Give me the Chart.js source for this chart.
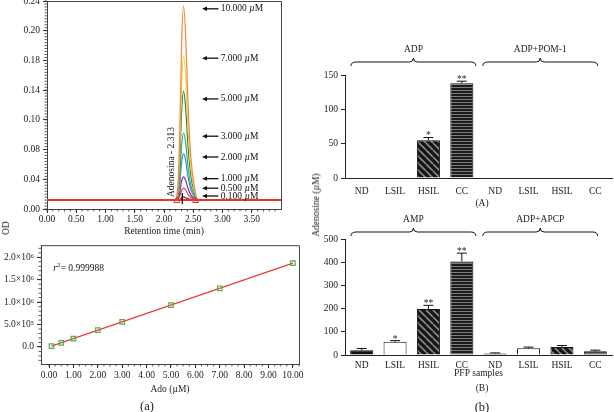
<!DOCTYPE html>
<html>
<head>
<meta charset="utf-8">
<script src="https://cdn.jsdelivr.net/npm/chart.js@4.4.1/dist/chart.umd.min.js"></script>
<style>
  html, body { margin: 0; padding: 0; background: #fff; }
  #fig { position: relative; width: 614px; height: 412px; overflow: hidden;
         font-family: "Liberation Serif", "DejaVu Serif", serif; color: #222; }
  #fig canvas { position: absolute; }
  .lbl { position: absolute; font-size: 9.5px; white-space: nowrap; transform: translate(-50%, -50%); }
  .big { font-size: 12.5px; }
  .rot { transform: translate(-50%, -50%) rotate(-90deg); }
</style>
</head>
<body>
<div id="fig">
  <canvas id="chrom" width="300" height="240" style="left:0;top:0"></canvas>
  <canvas id="calib" width="310" height="165" style="left:0;top:240px"></canvas>
  <canvas id="adp" width="314" height="164" style="left:300px;top:38px"></canvas>
  <canvas id="amp" width="314" height="190" style="left:300px;top:205px"></canvas>

  <div class="lbl rot" style="left:6px;top:228px">OD</div>
  <div class="lbl big" style="left:147px;top:406px">(a)</div>
  <div class="lbl rot" style="left:316px;top:205px">Adenosine (<i>µ</i>M)</div>
  <div class="lbl" style="left:482px;top:203px">(A)</div>
  <div class="lbl" style="left:482px;top:388px">(B)</div>
  <div class="lbl big" style="left:482px;top:407px">(b)</div>
</div>

<script>
// ---- chromatogram (OD vs retention time) ----
const retentionTime = [0.00, 2.18, 2.23, 2.27, 2.30, 2.335, 2.37, 2.41, 2.46, 2.52, 2.58, 4.00];
const od10000 = [0.010, 0.010, 0.021, 0.088, 0.189, 0.234, 0.200, 0.122, 0.059, 0.026, 0.010, 0.010];
const od7000  = [0.010, 0.010, 0.018, 0.068, 0.144, 0.177, 0.152, 0.094, 0.047, 0.022, 0.010, 0.010];
const od5000  = [0.010, 0.010, 0.016, 0.054, 0.111, 0.136, 0.117, 0.073, 0.038, 0.019, 0.010, 0.010];
const od3000  = [0.010, 0.010, 0.014, 0.037, 0.072, 0.088, 0.076, 0.049, 0.027, 0.015, 0.010, 0.010];
const od2000  = [0.010, 0.010, 0.013, 0.029, 0.053, 0.064, 0.056, 0.037, 0.022, 0.014, 0.010, 0.010];
const od1000  = [0.010, 0.010, 0.011, 0.019, 0.032, 0.037, 0.033, 0.024, 0.016, 0.012, 0.010, 0.010];
const od500   = [0.010, 0.010, 0.011, 0.015, 0.021, 0.024, 0.022, 0.017, 0.013, 0.011, 0.010, 0.010];
const od100   = [0.010, 0.010, 0.010, 0.011, 0.013, 0.014, 0.013, 0.012, 0.011, 0.010, 0.010, 0.010];
const baselineTime = [0.00, 4.00];
const baselineOD = [0.0104, 0.0104];
const timeTicks = [0, 0.5, 1, 1.5, 2, 2.5, 3, 3.5];
const odTickLabels = ['0.00', '0.04', '0.08', '0.10', '0.14', '0.18', '0.20', '0.24'];
const concLabels = ['10.000', '7.000', '5.000', '3.000', '2.000', '1.000', '0.500', '0.100'];
const concArrowOD = [0.231, 0.174, 0.127, 0.084, 0.060, 0.035, 0.024, 0.015];

// ---- calibration curve ----
const adoConc = [0.1, 0.5, 1, 2, 3, 5, 7, 10];
const peakArea = [0.019e6, 0.093e6, 0.187e6, 0.374e6, 0.561e6, 0.935e6, 1.309e6, 1.870e6];
const fitX = [0.1, 10];
const fitY = [0.019e6, 1.870e6];
const adoTicks = [0, 1, 2, 3, 4, 5, 6, 7, 8, 9, 10];
const areaTicks = [0, 0.5e6, 1.0e6, 1.5e6, 2.0e6];
const areaTickLabels = ['0.0', '5.0×10⁵', '1.0×10⁶', '1.5×10⁶', '2.0×10⁶'];

// ---- adenosine production (bars) ----
const samples = ['ND', 'LSIL', 'HSIL', 'CC', 'ND', 'LSIL', 'HSIL', 'CC'];
const adpMeans = [0, 0, 55, 138, 0, 0, 0, 0];
const adpSem   = [0, 0, 4, 3, 0, 0, 0, 0];
const adpStars = ['', '', '*', '**', '', '', '', ''];
const ampMeans = [20, 57, 198, 403, 6, 29, 35, 16];
const ampSem   = [8, 5, 16, 36, 3, 5, 6, 5];
const ampStars = ['', '*', '**', '**', '', '', '', ''];

Chart.defaults.font.family = '"Liberation Serif", "DejaVu Serif", serif';
Chart.defaults.font.size = 9.5;
Chart.defaults.color = '#222';
Chart.defaults.animation = false;

const FONT = '9.5px "Liberation Serif", serif';
const toXY = (xs, ys) => xs.map((v, i) => ({ x: v, y: ys[i] }));

function minorTicks(ctx, scale, from, to, step, len) {
  ctx.beginPath();
  for (let v = from; v <= to + 1e-9; v += step) {
    const p = scale.getPixelForValue(v);
    if (scale.isHorizontal()) {
      ctx.moveTo(p, scale.top); ctx.lineTo(p, scale.top + len);
    } else {
      ctx.moveTo(scale.right - len, p); ctx.lineTo(scale.right, p);
    }
  }
  ctx.stroke();
}

function boxFrame(ctx, a) {
  ctx.strokeStyle = '#444';
  ctx.lineWidth = 1;
  ctx.beginPath();
  ctx.moveTo(a.left, a.top + 0.5); ctx.lineTo(a.right + 0.5, a.top + 0.5); ctx.lineTo(a.right + 0.5, a.bottom);
  ctx.stroke();
}

const chromExtras = {
  id: 'chromExtras',
  afterDraw(chart) {
    const { ctx, chartArea: a, scales: { x, y } } = chart;
    ctx.save();
    boxFrame(ctx, a);
    ctx.strokeStyle = '#333';
    ctx.lineWidth = 0.8;
    minorTicks(ctx, x, 0, 3.9, 0.1, 2.5);
    minorTicks(ctx, y, 0, 0.24, 0.24 / 70, 2.5);

    // concentration arrows
    ctx.fillStyle = '#111';
    ctx.strokeStyle = '#111';
    ctx.font = FONT;
    ctx.textBaseline = 'middle';
    const xa = x.getPixelForValue(2.65), xb = x.getPixelForValue(2.93), xt = x.getPixelForValue(2.97);
    concLabels.forEach((t, i) => {
      const py = y.getPixelForValue(concArrowOD[i]);
      ctx.lineWidth = 1.3;
      ctx.beginPath(); ctx.moveTo(xa + 4, py); ctx.lineTo(xb, py); ctx.stroke();
      ctx.beginPath(); ctx.moveTo(xa, py); ctx.lineTo(xa + 5, py - 2.2); ctx.lineTo(xa + 5, py + 2.2); ctx.closePath(); ctx.fill();
      ctx.fillText(t + ' ', xt, py);
      const w = ctx.measureText(t + ' ').width;
      ctx.font = 'italic ' + FONT;
      ctx.fillText('µ', xt + w, py);
      const wm = ctx.measureText('µ').width;
      ctx.font = FONT;
      ctx.fillText('M', xt + w + wm, py);
    });

    // peak markers
    const by = y.getPixelForValue(baselineOD[0]);
    ctx.strokeStyle = '#e03a30';
    ctx.lineWidth = 1;
    [2.22, 2.54].forEach(v => {
      const px = x.getPixelForValue(v);
      ctx.beginPath(); ctx.moveTo(px, by - 3); ctx.lineTo(px + 3, by + 2.5); ctx.lineTo(px - 3, by + 2.5); ctx.closePath(); ctx.stroke();
    });
    const pm = x.getPixelForValue(2.313);
    ctx.strokeStyle = '#000';
    ctx.lineWidth = 1.2;
    ctx.beginPath(); ctx.moveTo(pm, by - 7); ctx.lineTo(pm, by + 4); ctx.stroke();

    // peak name
    ctx.translate(x.getPixelForValue(2.13), by - 3);
    ctx.rotate(-Math.PI / 2);
    ctx.fillStyle = '#111';
    ctx.textAlign = 'left';
    ctx.fillText('Adenosina - 2.313', 0, 0);
    ctx.restore();
  }
};

const peakColors = ['#f5883a', '#e9d54a', '#1f8a3c', '#3aa88c', '#3b8bd1', '#8b2c8f', '#d9475f', '#7a1f3a'];
const peakData = [od10000, od7000, od5000, od3000, od2000, od1000, od500, od100];

new Chart(document.getElementById('chrom'), {
  type: 'line',
  data: {
    datasets: [
      { data: toXY(baselineTime, baselineOD), borderColor: '#e53a30', borderWidth: 2, order: 0 }
    ].concat(peakData.map((d, i) => ({
      data: toXY(retentionTime, d), borderColor: peakColors[i], borderWidth: 1.2, order: 1 + i
    })))
  },
  options: {
    responsive: false,
    layout: { padding: { top: 1, right: 19, left: 0, bottom: 0 } },
    plugins: { legend: { display: false }, tooltip: { enabled: false } },
    elements: { point: { radius: 0 }, line: { cubicInterpolationMode: 'monotone' } },
    scales: {
      x: {
        type: 'linear', min: 0, max: 4,
        afterBuildTicks: s => { s.ticks = timeTicks.map(v => ({ value: v })); },
        afterFit: s => { s.height = 31; s.paddingLeft = 0; s.paddingRight = 0; },
        ticks: { padding: 1, maxRotation: 0, autoSkip: false, callback: v => v.toFixed(2) },
        grid: { drawOnChartArea: false, tickLength: 4, color: '#333' },
        border: { color: '#444' },
        title: { display: true, text: 'Retention time (min)', padding: { top: 0, bottom: 3 } }
      },
      y: {
        type: 'linear', min: 0, max: 0.24,
        afterBuildTicks: s => { s.ticks = odTickLabels.map((t, i) => ({ value: i * 0.24 / 7 })); },
        afterFit: s => { s.width = 47; s.paddingTop = 0; s.paddingBottom = 0; },
        ticks: { padding: 3, autoSkip: false, callback: (v, i) => odTickLabels[i] },
        grid: { drawOnChartArea: false, tickLength: 4, color: '#333' },
        border: { color: '#444' }
      }
    }
  },
  plugins: [chromExtras]
});

// ---- calibration chart ----
const calibExtras = {
  id: 'calibExtras',
  afterDraw(chart) {
    const { ctx, chartArea: a, scales: { x, y } } = chart;
    ctx.save();
    boxFrame(ctx, a);
    ctx.strokeStyle = '#333';
    ctx.lineWidth = 0.8;
    minorTicks(ctx, x, 0, 10.25, 0.25, 2.5);
    minorTicks(ctx, y, -0.3e6, 2.2e6, 0.1e6, 2.5);
    ctx.fillStyle = '#111';
    ctx.textBaseline = 'middle';
    const px = x.getPixelForValue(0.17), py = y.getPixelForValue(1.75e6);
    ctx.font = 'italic ' + FONT;
    ctx.fillText('r', px, py);
    let w = ctx.measureText('r').width;
    ctx.font = '6.5px "Liberation Serif", serif';
    ctx.fillText('2', px + w, py - 3);
    w += ctx.measureText('2').width;
    ctx.font = FONT;
    ctx.fillText('= 0.999988', px + w + 0.5, py);
    ctx.restore();
  }
};

new Chart(document.getElementById('calib'), {
  type: 'scatter',
  data: {
    datasets: [
      { data: toXY(adoConc, peakArea), pointStyle: 'rect', pointRadius: 3.2, borderColor: '#52b04a',
        backgroundColor: 'rgba(0,0,0,0)', borderWidth: 1.2, order: 0 },
      { type: 'line', data: toXY(fitX, fitY), borderColor: '#ec3b33', borderWidth: 1.2, pointRadius: 0, order: 1 }
    ]
  },
  options: {
    responsive: false,
    layout: { padding: { top: 5, right: 11, left: 0, bottom: 0 } },
    plugins: { legend: { display: false }, tooltip: { enabled: false } },
    scales: {
      x: {
        type: 'linear', min: -0.33, max: 10.25,
        afterBuildTicks: s => { s.ticks = adoTicks.map(v => ({ value: v })); },
        afterFit: s => { s.height = 41; s.paddingLeft = 0; s.paddingRight = 0; },
        ticks: { padding: 2, maxRotation: 0, autoSkip: false, callback: v => v.toFixed(2) },
        grid: { drawOnChartArea: false, tickLength: 4, color: '#333' },
        border: { color: '#444' },
        title: { display: true, text: 'Ado (µM)', padding: { top: 0, bottom: 10 } }
      },
      y: {
        type: 'linear', min: -0.38e6, max: 2.27e6,
        afterBuildTicks: s => { s.ticks = areaTicks.map(v => ({ value: v })); },
        afterFit: s => { s.width = 41; s.paddingTop = 0; s.paddingBottom = 0; },
        ticks: { padding: 3, autoSkip: false, callback: (v, i) => areaTickLabels[i] },
        grid: { drawOnChartArea: false, tickLength: 4, color: '#333' },
        border: { color: '#444' }
      }
    }
  },
  plugins: [calibExtras]
});

// ---- bar charts ----
function makePattern(kind) {
  const c = document.createElement('canvas');
  const g = c.getContext('2d');
  if (kind === 'diag') {
    c.width = c.height = 7;
    g.fillStyle = '#161616'; g.fillRect(0, 0, 7, 7);
    g.strokeStyle = '#8a8a8a'; g.lineWidth = 1.6;
    g.beginPath();
    [-7, 0, 7].forEach(o => { g.moveTo(o, 0); g.lineTo(o + 7, 7); });
    g.stroke();
  } else {
    c.width = 4; c.height = 3;
    g.fillStyle = '#1c1c1c'; g.fillRect(0, 0, 4, 3);
    g.fillStyle = '#7c7c7c'; g.fillRect(0, 1, 4, 1);
  }
  return g.createPattern(c, 'repeat');
}
const diag = makePattern('diag');
const horiz = makePattern('horiz');
const barFills = ['#111', '#fff', diag, horiz, '#111', '#fff', diag, horiz];

function barExtras(means, sem, stars, braces, braceGap, textGap) {
  return {
    id: 'barExtras',
    afterDatasetsDraw(chart) {
      const { ctx, chartArea: a, scales: { x, y } } = chart;
      const meta = chart.getDatasetMeta(0);
      ctx.save();
      ctx.strokeStyle = '#111';
      ctx.fillStyle = '#222';
      ctx.lineWidth = 1;
      ctx.font = FONT;
      ctx.textAlign = 'center';
      meta.data.forEach((bar, i) => {
        const top = y.getPixelForValue(means[i] + sem[i]);
        if (sem[i] > 0) {
          ctx.beginPath();
          ctx.moveTo(bar.x, bar.y); ctx.lineTo(bar.x, top);
          ctx.moveTo(bar.x - 5, top); ctx.lineTo(bar.x + 5, top);
          ctx.stroke();
        }
        if (stars[i]) {
          ctx.textBaseline = 'alphabetic';
          ctx.fillText(stars[i], bar.x, top + 1);
        }
      });
      // group braces
      const yb = a.top - braceGap;
      braces.forEach(b => {
        const x1 = x.getPixelForValue(b.from), x2 = x.getPixelForValue(b.to), xm = (x1 + x2) / 2;
        ctx.lineWidth = 1;
        ctx.beginPath();
        ctx.moveTo(x1, yb + 4);
        ctx.quadraticCurveTo(x1, yb, x1 + 5, yb);
        ctx.lineTo(xm - 4, yb);
        ctx.quadraticCurveTo(xm, yb, xm, yb - 4);
        ctx.quadraticCurveTo(xm, yb, xm + 4, yb);
        ctx.lineTo(x2 - 5, yb);
        ctx.quadraticCurveTo(x2, yb, x2, yb + 4);
        ctx.stroke();
        ctx.textBaseline = 'middle';
        ctx.fillText(b.label, xm, a.top - textGap);
      });
      ctx.restore();
    }
  };
}

function barChart(id, means, sem, stars, yMax, yStep, braces, opts) {
  return new Chart(document.getElementById(id), {
    type: 'bar',
    data: {
      labels: samples,
      datasets: [{ data: means, backgroundColor: barFills, borderColor: '#111', borderWidth: 1,
                   barPercentage: 0.69, categoryPercentage: 1 }]
    },
    options: {
      responsive: false,
      layout: { padding: { top: opts.padTop, right: 2, left: 0, bottom: 0 } },
      plugins: { legend: { display: false }, tooltip: { enabled: false } },
      scales: {
        x: {
          afterFit: s => { s.height = opts.xHeight; s.paddingLeft = 0; s.paddingRight = 0; },
          ticks: { padding: opts.tickPad, autoSkip: false, maxRotation: 0 },
          grid: { display: false, drawTicks: false },
          border: { color: '#222' },
          title: opts.title ? { display: true, text: opts.title, padding: { top: 0, bottom: opts.titlePad } } : { display: false }
        },
        y: {
          min: 0, max: yMax,
          afterFit: s => { s.width = 45; s.paddingTop = 0; s.paddingBottom = 0; },
          ticks: { stepSize: yStep, padding: 3 },
          grid: { drawOnChartArea: false, tickLength: 4, color: '#222' },
          border: { color: '#222' }
        }
      }
    },
    plugins: [barExtras(means, sem, stars, braces, opts.braceGap, opts.textGap)]
  });
}

barChart('adp', adpMeans, adpSem, adpStars, 150, 50,
  [{ from: -0.32, to: 3.42, label: 'ADP' }, { from: 3.63, to: 7.07, label: 'ADP+POM-1' }],
  { padTop: 37, xHeight: 24, tickPad: 8, braceGap: 13, textGap: 26 });

barChart('amp', ampMeans, ampSem, ampStars, 500, 100,
  [{ from: -0.32, to: 3.42, label: 'AMP' }, { from: 3.63, to: 7.07, label: 'ADP+APCP' }],
  { padTop: 34, xHeight: 40, tickPad: 5, braceGap: 7, textGap: 20, title: 'PFP samples', titlePad: 16 });
</script>
</body>
</html>
